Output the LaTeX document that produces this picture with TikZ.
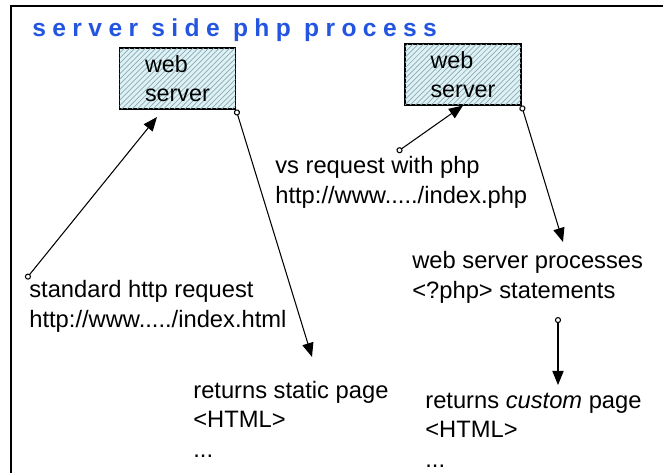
\documentclass[tikz,border=0pt]{standalone}
\usepackage{fontspec}
\setmainfont{Liberation Sans}
\newfontfamily\titlefont[LetterSpace=26]{Liberation Sans}
\usetikzlibrary{arrows.meta,patterns}

\definecolor{titleblue}{RGB}{35,85,225}
\definecolor{boxfill}{RGB}{222,242,246}
\definecolor{hatch}{RGB}{140,170,180}

\tikzset{
  server/.style={draw, line width=0.6pt, fill=boxfill,
    postaction={pattern=north east lines, pattern color=hatch},
    minimum width=2.32cm, minimum height=1.22cm, align=left,
    font=\fontsize{13.3}{16.4}\selectfont},
  txt/.style={anchor=base west, inner sep=0pt, align=left,
    font=\fontsize{13.5}{16.6}\selectfont},
  flow/.style={line width=0.6pt,
    {Circle[open,length=3.5pt]}-{Triangle[length=8pt,width=6.4pt]}}
}

\begin{document}
\begin{tikzpicture}[x=0.02cm,y=-0.02cm]
\useasboundingbox (0,0) rectangle (663,473);
\draw[line width=1.7pt] (11,473) -- (11,6) -- (663,6);

\node[anchor=base west, inner sep=0pt, text=titleblue,
  font=\titlefont\fontsize{14}{16}\bfseries\selectfont] (title) at (32,37) {server side php process};

\node[server] (ws1) at (177.5,78.5) {web\\server};
\node[server] (ws2) at (463,74.5) {web\\server};

% base anchor sits on the last line
\node[txt] (std) at (29,327) {standard http request\\http://www...../index.html};
\node[txt] (vs) at (275,203) {vs request with php\\http://www...../index.php};
\node[txt] (proc) at (412,298) {web server processes\\<?php> statements};
\node[txt] (static) at (193,457) {returns static page\\<HTML>\\...};
\node[txt] (custom) at (425,467) {returns \textit{custom} page\\<HTML>\\...};

\coordinate (std tail) at (26,279);
\coordinate (std tip) at (157,117);
\coordinate (static tip) at (312,357);
\coordinate (vs tail) at (397,152);
\coordinate (proc tip) at (563,242);
\coordinate (proc tail) at (558,317);
\coordinate (custom tip) at (558,385);

\draw[flow] (std tail) -- (std tip);
\draw[flow] (ws1.south east) -- (static tip);
\draw[flow] (vs tail) -- (ws2.south);
\draw[flow] (ws2.south east) -- (proc tip);
\draw[flow] (proc tail) -- (custom tip);
\end{tikzpicture}
\end{document}
